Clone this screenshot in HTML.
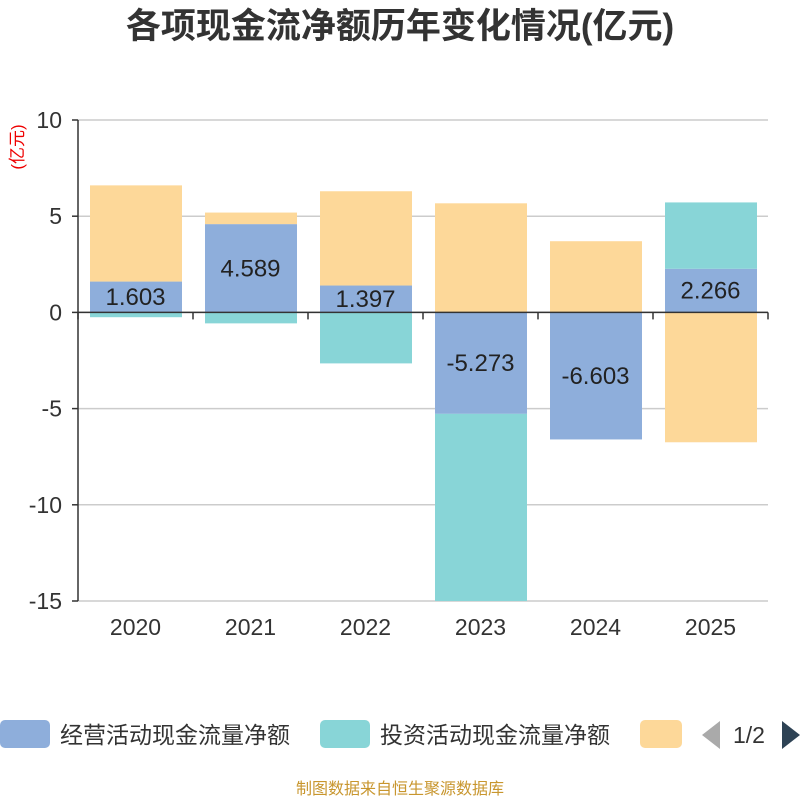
<!DOCTYPE html>
<html><head><meta charset="utf-8"><style>
body{margin:0;background:#fff;width:800px;height:800px;overflow:hidden;font-family:"Liberation Sans","Noto Sans CJK SC",sans-serif;}
svg text{font-family:"Liberation Sans","Noto Sans CJK SC",sans-serif;}
</style></head><body>
<svg id="chart" width="800" height="800" xmlns="http://www.w3.org/2000/svg">
<text x="400" y="38" text-anchor="middle" font-size="35" font-weight="bold" fill="#333">各项现金流净额历年变化情况(亿元)</text>
<text transform="translate(23,147) rotate(-90)" text-anchor="middle" font-size="17" fill="#e00">(亿元)</text>
<g id="grid"></g><g id="bars"></g><g id="axes"></g><g id="labels"></g>
<g>
<rect x="0" y="720" width="50" height="28" rx="5" fill="#8eaedb"/>
<text x="60" y="743" font-size="23" fill="#333">经营活动现金流量净额</text>
<rect x="320" y="720" width="50" height="28" rx="5" fill="#88d5d7"/>
<text x="380" y="743" font-size="23" fill="#333">投资活动现金流量净额</text>
<rect x="640" y="720" width="42" height="28" rx="5" fill="#fdd899"/>
<polygon points="720,721 720,749 702,735" fill="#aaa"/>
<text x="733" y="743" font-size="23" fill="#333">1/2</text>
<polygon points="782,721 782,749 800,735" fill="#2e4355"/>
</g>
<text x="400" y="794" text-anchor="middle" font-size="16" fill="#c8962e">制图数据来自恒生聚源数据库</text>
</svg>
<script>
const categories=["2020","2021","2022","2023","2024","2025"];
const operating=[1.603,4.589,1.397,-5.273,-6.603,2.266];
const investing=[-0.25,-0.57,-2.65,-10.2,0,3.45];
const financing=[5.0,0.6,4.9,5.67,3.7,-6.75];
const yTicks=[10,5,0,-5,-10,-15];
const NS="http://www.w3.org/2000/svg";
const L=78,R=768,T=120,B=601,yMin=-15,yMax=10;
const y=v=>T+(yMax-Math.max(yMin,Math.min(yMax,v)))/(yMax-yMin)*(B-T);
const bw=(R-L)/categories.length;
const x=i=>L+bw*i;
function mk(tag,attrs,parent){const e=document.createElementNS(NS,tag);for(const k in attrs)e.setAttribute(k,attrs[k]);document.getElementById(parent).appendChild(e);return e;}
yTicks.forEach(t=>{
 const g=mk('line',{x1:L,x2:R,y1:y(t),y2:y(t),stroke:'#ccc','stroke-width':1.5},'grid');
 
 
 const tk=mk('line',{x1:L-6,x2:L,y1:y(t),y2:y(t),stroke:'#333','stroke-width':1.5},'axes');
 
 
 const tx=mk('text',{x:L-16,y:y(t)+8,'text-anchor':'end','font-size':23,fill:'#333'},'axes');
 tx.textContent=t;
 
 
});
const series=[[operating,'#8eaedb','operating'],[investing,'#88d5d7','investing'],[financing,'#fdd899','financing']];
categories.forEach((c,i)=>{
 let pos=0,neg=0;
 series.forEach(([arr,col,nm])=>{
  const v=arr[i];if(!v)return;
  let a,b;
  if(v>=0){a=pos;b=pos+v;pos=b;}else{a=neg;b=neg+v;neg=b;}
  const y1=y(Math.max(a,b)),y2=y(Math.min(a,b));
  const r=mk('rect',{x:x(i)+bw*0.1+0.5,y:y1,width:bw*0.8,height:Math.max(0,y2-y1),fill:col},'bars');
  
  
 });
 const v=operating[i];
 const lb=mk('text',{x:x(i)+bw/2,y:(y(0)+y(v))/2+8,'text-anchor':'middle','font-size':24,fill:'#222'},'labels');
 lb.textContent=v.toFixed(3);
 
 
 const xl=mk('text',{x:x(i)+bw/2,y:635,'text-anchor':'middle','font-size':23,fill:'#333'},'axes');
 xl.textContent=c;
 
 
});
for(let i=0;i<=categories.length;i++){
 const tk=mk('line',{x1:x(i),x2:x(i),y1:y(0),y2:y(0)+7,stroke:'#333','stroke-width':1.5},'axes');
 
 
}
const xa=mk('line',{x1:L,x2:R,y1:y(0),y2:y(0),stroke:'#333','stroke-width':1.5},'axes');


const ya=mk('line',{x1:L,x2:L,y1:T,y2:B,stroke:'#333','stroke-width':1.5},'axes');


</script>
</body></html>
